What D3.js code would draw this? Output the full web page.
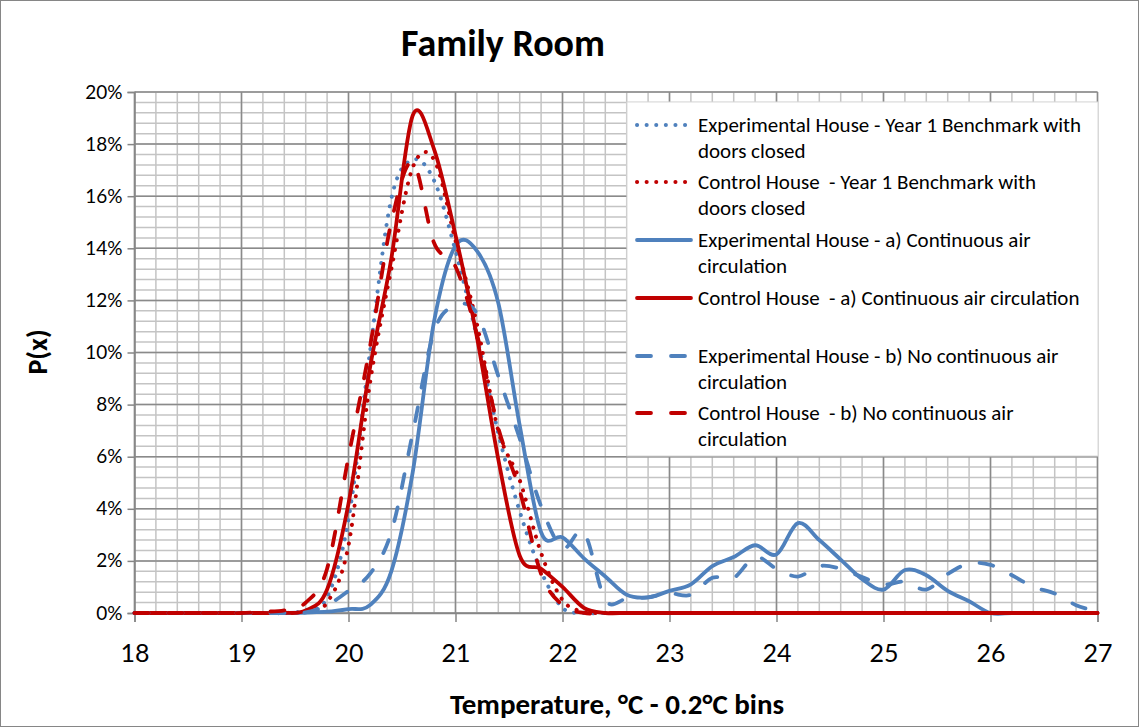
<!DOCTYPE html>
<html>
<head>
<meta charset="utf-8">
<script src="https://cdn.jsdelivr.net/npm/d3@7"></script>
<style>
  body { margin: 0; background: #fff; }
  svg text { font-family: Carlito, Calibri, Lato, sans-serif; fill: #000; }
</style>
</head>
<body>
<div id="chart"></div>
<script>
// temperature bins (°C)
const temps = [18.0, 18.2, 18.4, 18.6, 18.8, 19.0, 19.2, 19.4, 19.6, 19.8,
  20.0, 20.2, 20.4, 20.6, 20.8, 21.0, 21.2, 21.4, 21.6, 21.8,
  22.0, 22.2, 22.4, 22.6, 22.8, 23.0, 23.2, 23.4, 23.6, 23.8,
  24.0, 24.2, 24.4, 24.6, 24.8, 25.0, 25.2, 25.4, 25.6, 25.8,
  26.0, 26.2, 26.4, 26.6, 26.8, 27.0];

// P(x) in percent
const expYear1 = [0, 0, 0, 0, 0, 0, 0, 0, 0.1, 0.6,
  3.6, 10.0, 15.9, 17.4, 16.6, 13.9, 10.6, 6.9, 3.9, 1.6,
  0.2, 0, 0, 0, 0, 0, 0, 0, 0, 0,
  0, 0, 0, 0, 0, 0, 0, 0, 0, 0,
  0, 0, 0, 0, 0, 0];
const ctlYear1 = [0, 0, 0, 0, 0, 0, 0, 0, 0.05, 0.4,
  2.6, 8.8, 13.2, 17.1, 17.4, 14.3, 11.1, 7.0, 5.1, 2.3,
  0.5, 0.05, 0, 0, 0, 0, 0, 0, 0, 0,
  0, 0, 0, 0, 0, 0, 0, 0, 0, 0,
  0, 0, 0, 0, 0, 0];
const expContA = [0, 0, 0, 0, 0, 0, 0, 0, 0.02, 0.05,
  0.15, 0.3, 1.6, 5.4, 11.2, 14.1, 13.9, 11.9, 7.2, 3.1,
  2.9, 2.1, 1.4, 0.7, 0.6, 0.85, 1.1, 1.8, 2.15, 2.6,
  2.25, 3.45, 2.8, 2.05, 1.3, 0.9, 1.65, 1.45, 0.85, 0.45,
  0, 0, 0, 0, 0, 0];
const ctlContA = [0, 0, 0, 0, 0, 0, 0, 0, 0.1, 0.9,
  4.2, 9.4, 13.6, 19.1, 17.8, 14.5, 10.6, 5.9, 2.2, 1.7,
  1.0, 0.2, 0, 0, 0, 0, 0, 0, 0, 0,
  0, 0, 0, 0, 0, 0, 0, 0, 0, 0,
  0, 0, 0, 0, 0, 0];
const expNoContB = [0, 0, 0, 0, 0, 0, 0, 0, 0.02, 0.3,
  0.85, 1.5, 3.1, 6.9, 10.8, 11.8, 11.5, 9.1, 6.7, 4.1,
  2.5, 3.1, 0.5, 0.55, 0.6, 0.75, 0.7, 1.35, 1.35, 2.15,
  1.7, 1.4, 1.8, 1.7, 1.38, 1.1, 1.2, 0.9, 1.5, 1.9,
  1.85, 1.45, 1.0, 0.75, 0.3, 0.05];
const ctlNoContB = [0, 0, 0, 0, 0, 0, 0.05, 0.1, 0.4, 1.7,
  6.0, 10.2, 15.0, 17.3, 14.2, 13.3, 10.7, 7.1, 4.7, 1.5,
  0.3, 0, 0, 0, 0, 0, 0, 0, 0, 0,
  0, 0, 0, 0, 0, 0, 0, 0, 0, 0,
  0, 0, 0, 0, 0, 0];

const yTicks = [0, 2, 4, 6, 8, 10, 12, 14, 16, 18, 20];
const xTicks = [18, 19, 20, 21, 22, 23, 24, 25, 26, 27];

const BLUE = "#4f81bd", RED = "#c00000";

const series = [
  {name: "Experimental House - Year 1 Benchmark with\ndoors closed", values: expYear1, color: BLUE, style: "dot"},
  {name: "Control House  - Year 1 Benchmark with\ndoors closed", values: ctlYear1, color: RED, style: "dot"},
  {name: "Experimental House - a) Continuous air\ncirculation", values: expContA, color: BLUE, style: "solid"},
  {name: "Control House  - a) Continuous air circulation", values: ctlContA, color: RED, style: "solid"},
  {name: "Experimental House - b) No continuous air\ncirculation", values: expNoContB, color: BLUE, style: "dash"},
  {name: "Control House  - b) No continuous air\ncirculation", values: ctlNoContB, color: RED, style: "dash"}
];

const W = 1139, H = 727;
const svg = d3.select("#chart").append("svg").attr("width", W).attr("height", H);

svg.append("rect").attr("x", 0.5).attr("y", 0.5).attr("width", W - 1).attr("height", H - 1)
  .attr("fill", "#fff").attr("stroke", "#868686");

const x = d3.scaleLinear().domain([18, 27]).range([134.5, 1097.5]);
const y = d3.scaleLinear().domain([0, 20]).range([613, 92]);

// gridlines: minor every 0.2 °C / 0.4 %, major on ticks
const grid = svg.append("g");
const minorX = d3.range(0, 46).map(i => 18 + i * 0.2);
const minorY = d3.range(0, 51).map(i => i * 0.4);
grid.selectAll(".mx").data(minorX).enter().append("line")
  .attr("x1", d => x(d)).attr("x2", d => x(d)).attr("y1", y(0)).attr("y2", y(20))
  .attr("stroke", "#c4c4c4").attr("stroke-width", 1.5);
grid.selectAll(".my").data(minorY).enter().append("line")
  .attr("x1", x(18)).attr("x2", x(27)).attr("y1", d => y(d)).attr("y2", d => y(d))
  .attr("stroke", "#c4c4c4").attr("stroke-width", 1.5);
grid.selectAll(".Mx").data(xTicks).enter().append("line")
  .attr("x1", d => x(d)).attr("x2", d => x(d)).attr("y1", y(0)).attr("y2", y(20))
  .attr("stroke", "#8a8a8a").attr("stroke-width", 1.5);
grid.selectAll(".My").data(yTicks).enter().append("line")
  .attr("x1", x(18)).attr("x2", x(27)).attr("y1", d => y(d)).attr("y2", d => y(d))
  .attr("stroke", "#8a8a8a").attr("stroke-width", 1.5);

// axes
const yAxis = svg.append("g").attr("transform", `translate(${x(18)},0)`)
  .call(d3.axisLeft(y).tickValues(yTicks).tickFormat(d => d + "%").tickSize(7).tickPadding(5));
const xAxis = svg.append("g").attr("transform", `translate(0,${y(0)})`)
  .call(d3.axisBottom(x).tickValues(xTicks).tickFormat(d3.format("d")).tickSize(9).tickPadding(22));
[yAxis, xAxis].forEach(a => {
  a.select(".domain").attr("stroke", "#868686").attr("stroke-width", 1.5);
  a.selectAll(".tick line").attr("stroke", "#868686").attr("stroke-width", 1.5);
});
yAxis.selectAll("text").attr("font-size", 19).style("font-family", "Lato, sans-serif");
xAxis.selectAll("text").attr("font-size", 25).style("font-family", "Lato, sans-serif");

// series lines
const line = d3.line().x((d, i) => x(temps[i])).y(d => y(d)).curve(d3.curveCardinal.tension(0));
const dashFor = s => s === "dot" ? "0.1 9.5" : s === "dash" ? "14 20" : null;
const widthFor = s => s === "dot" ? 4 : 3.8;

svg.append("g").selectAll("path").data(series).enter().append("path")
  .attr("d", d => line(d.values))
  .attr("fill", "none")
  .attr("stroke", d => d.color)
  .attr("stroke-width", d => widthFor(d.style))
  .attr("stroke-linecap", "round")
  .attr("stroke-linejoin", "round")
  .attr("stroke-dasharray", d => dashFor(d.style));

// legend
const lg = svg.append("g");
lg.append("rect").attr("x", 627).attr("y", 102).attr("width", 471).attr("height", 354)
  .attr("fill", "#fff").attr("stroke", "#d9d9d9");
const rowY = [125, 182, 240, 298, 356, 413];
series.forEach((s, i) => {
  lg.append("line").attr("x1", 637).attr("x2", 691).attr("y1", rowY[i]).attr("y2", rowY[i])
    .attr("stroke", s.color).attr("stroke-width", widthFor(s.style))
    .attr("stroke-linecap", "round").attr("stroke-dasharray", dashFor(s.style));
  const t = lg.append("text").attr("x", 698).attr("y", rowY[i] + 7)
    .attr("font-size", 21).attr("xml:space", "preserve").style("white-space", "pre");
  s.name.split("\n").forEach((ln, k) => {
    t.append("tspan").attr("x", 698).attr("dy", k === 0 ? 0 : 26).text(ln);
  });
});

// titles
svg.append("text").attr("x", 503).attr("y", 56).attr("text-anchor", "middle")
  .attr("font-size", 38).attr("font-weight", "bold").text("Family Room");
svg.append("text").attr("x", 617).attr("y", 714).attr("text-anchor", "middle")
  .attr("font-size", 29).attr("font-weight", "bold").text("Temperature, °C - 0.2°C bins");
svg.append("text").attr("transform", "translate(47,352) rotate(-90)").attr("text-anchor", "middle")
  .attr("font-size", 28).attr("font-weight", "bold").text("P(x)");
</script>
</body>
</html>
